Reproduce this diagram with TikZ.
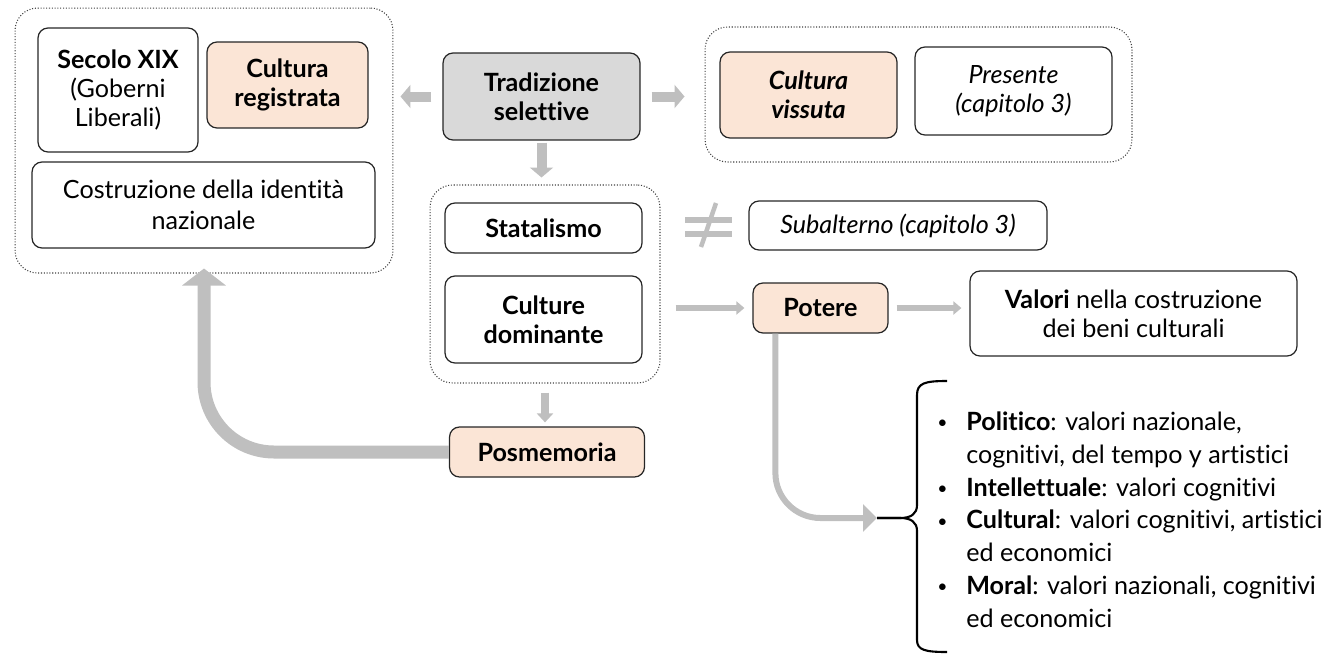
\documentclass[tikz,border=0pt]{standalone}
\usepackage{fontspec}
\setmainfont{Lato}[Ligatures=NoCommon]
\usetikzlibrary{arrows.meta,calc}

\definecolor{peach}{HTML}{FBE5D6}
\definecolor{shade}{HTML}{D9D9D9}
\definecolor{flow}{HTML}{BFBFBF}
\newcommand\basefont{\fontsize{14.3}{16.5}\selectfont}
\newcommand\dotmark{\makebox[0.58cm][l]{\raisebox{0.15ex}{\fontsize{10}{10}\selectfont\textbullet}}}

\begin{document}
\begin{tikzpicture}[
  x=0.02cm, y=-0.02cm,
  line join=round,
  font=\basefont,
  box/.style={draw=black!85,line width=0.7pt,rounded corners=0.2cm,align=center,inner sep=2pt},
  boldbox/.style={box,font=\basefont\bfseries},
  warm/.style={boldbox,fill=peach},
  cluster/.style={draw=black!75,densely dotted,line width=0.6pt,rounded corners=0.45cm,inner sep=0pt},
  flowarrow/.style={draw=flow,line width=0.2cm,-{Triangle[width=0.46cm,length=0.2cm]}},
  thinflow/.style={draw=flow,line width=0.12cm,-{Triangle[width=0.26cm,length=0.16cm]}},
  bigflow/.style={draw=flow,line width=0.26cm,rounded corners=1.4cm,-{Triangle[width=0.86cm,length=0.34cm]}}
]
\useasboundingbox (0,0) rectangle (1328,653);

% ------------------------------------------------------------------
% Left cluster
% ------------------------------------------------------------------
\node[cluster,minimum width=7.56cm,minimum height=5.3cm] (cluL) at (204,140.5) {};
\node[box,minimum width=3.2cm,minimum height=2.48cm] (secolo) at (118,90)
  {\textbf{Secolo XIX}\\(Goberni\\Liberali)};
\node[warm,minimum width=3.22cm,minimum height=1.72cm] (registrata) at (287.5,85)
  {Cultura\\registrata};
\node[box,minimum width=6.86cm,minimum height=1.72cm,font=\fontsize{14.3}{17.5}\selectfont] (identita) at (203.5,205)
  {Costruzione della identità\\nazionale};

% ------------------------------------------------------------------
% Top row
% ------------------------------------------------------------------
\node[boldbox,fill=shade,minimum width=3.94cm,minimum height=1.74cm] (tradizione) at (541.5,96.5)
  {Tradizione\\selettive};

\node[cluster,minimum width=8.54cm,minimum height=2.7cm] (cluR) at (918.5,94.5) {};
\node[warm,font=\basefont\bfseries\itshape,minimum width=3.54cm,minimum height=1.72cm] (vissuta) at (808.5,95)
  {Cultura\\vissuta};
\node[box,font=\basefont\itshape,minimum width=3.94cm,minimum height=1.76cm] (presente) at (1013.5,91)
  {Presente\\(capitolo 3)};

% ------------------------------------------------------------------
% Middle cluster
% ------------------------------------------------------------------
\node[cluster,minimum width=4.6cm,minimum height=3.96cm] (cluM) at (545,284) {};
\node[boldbox,minimum width=3.94cm,minimum height=1cm] (statalismo) at (543.5,228) {Statalismo};
\node[boldbox,minimum width=3.94cm,minimum height=1.74cm] (dominante) at (543.5,319.5)
  {Culture\\dominante};

% not equal sign
\draw[flow,line width=0.12cm] (685,220) -- (732,220);
\draw[flow,line width=0.12cm] (685,233.5) -- (732,233.5);
\draw[flow,line width=0.09cm] (701,247) -- (716,203);

\node[box,font=\basefont\itshape,minimum width=5.96cm,minimum height=0.98cm] (subalterno) at (898,225.5)
  {Subalterno (capitolo 3)};

\node[warm,minimum width=2.7cm,minimum height=1cm] (potere) at (820.5,308) {Potere};
\node[box,minimum width=6.54cm,minimum height=1.7cm] (valori) at (1133.5,313.5)
  {\textbf{Valori} nella costruzione\\dei beni culturali};
\node[warm,minimum width=3.9cm,minimum height=1cm] (posmemoria) at (547,452) {Posmemoria};

% ------------------------------------------------------------------
% Brace and list
% ------------------------------------------------------------------
\coordinate (bracetip) at (877,518);
\draw[line width=1.2pt] (947,381) .. controls (925,381) and (917,383) .. (917,395)
  -- (917,505) .. controls (917,514) and (911,518) .. (900,518) -- (bracetip);
\draw[line width=1.2pt] (bracetip) -- (900,518) .. controls (911,518) and (917,522) .. (917,531)
  -- (917,640) .. controls (917,650) and (925,652) .. (947,652);

\node[anchor=north west,inner sep=0pt] (lista) at (937,407)
  {\fontsize{14.3}{18.7}\selectfont
   \begin{tabular}{@{}l@{}l@{}}
   \dotmark & \textbf{Politico}: valori nazionale,\\
   & cognitivi, del tempo y artistici\\
   \dotmark & \textbf{Intellettuale}: valori cognitivi\\
   \dotmark & \textbf{Cultural}: valori cognitivi, artistici\\
   & ed economici\\
   \dotmark & \textbf{Moral}: valori nazionali, cognitivi\\
   & ed economici
   \end{tabular}};

% ------------------------------------------------------------------
% Arrows
% ------------------------------------------------------------------
\draw[flowarrow,shorten <=0.22cm,shorten >=0.14cm] (tradizione.west) -- (cluL.east |- tradizione.west);
\draw[flowarrow,shorten <=0.22cm,shorten >=0.4cm] (tradizione.east) -- (cluR.west |- tradizione.east);
\draw[flowarrow,shorten <=0.04cm,shorten >=0.14cm] (tradizione.south) -- (cluM.north -| tradizione.south);
\draw[thinflow,shorten <=0.3cm,shorten >=0.16cm] (cluM.east |- potere.west) -- (potere.west);
\draw[thinflow,shorten <=0.16cm,shorten >=0.16cm] (potere.east) -- (valori.west |- potere.east);
\draw[draw=flow,line width=0.16cm,shorten <=0.18cm,shorten >=0.08cm,-{Triangle[width=0.32cm,length=0.18cm]}]
  (cluM.south) -- (posmemoria.north -| cluM.south);
\draw[bigflow,shorten >=-0.1cm] (posmemoria.west) -| (cluL.south);
\draw[draw=flow,line width=0.12cm,rounded corners=0.9cm,-{Triangle[width=0.54cm,length=0.28cm]}]
  ($(potere.south west)+(23,0)$) |- (bracetip);

\end{tikzpicture}
\end{document}
